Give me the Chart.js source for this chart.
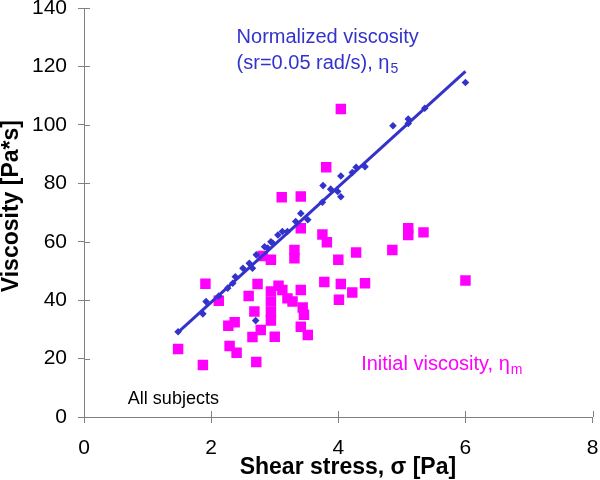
<!DOCTYPE html>
<html>
<head>
<meta charset="utf-8">
<script src="https://cdn.jsdelivr.net/npm/chart.js@4.4.0/dist/chart.umd.min.js"></script>
<style>
  html, body { margin: 0; padding: 0; background: #fff; }
</style>
</head>
<body>
<canvas id="viscChart" width="600" height="480"></canvas>
<script>
// normalized viscosity (sr=0.05 rad/s), eta5
var normX = [1.48, 1.87, 1.92, 2.12, 2.26, 2.34, 2.38, 2.50, 2.60, 2.65, 2.70, 2.71, 2.84, 2.89, 2.94, 2.97, 3.05, 3.12, 3.20, 3.33, 3.41, 3.52, 3.75, 3.76, 3.88, 3.99, 4.04, 4.04, 4.22, 4.28, 4.42, 4.86, 5.10, 5.10, 5.36, 6.00];
var normY = [29.2, 35.3, 39.5, 41.4, 44.1, 45.8, 48.0, 50.9, 52.6, 50.9, 33.0, 55.5, 58.3, 57.8, 60.0, 59.5, 62.3, 63.5, 63.5, 66.9, 69.7, 67.5, 73.5, 79.2, 78.0, 77.2, 75.4, 82.5, 83.7, 85.5, 85.7, 99.7, 102.0, 100.5, 105.7, 114.5];

// initial viscosity, eta_m
var initX = [1.48, 1.87, 1.91, 2.12, 2.27, 2.37, 2.29, 2.40, 2.59, 2.73, 2.68, 2.78, 2.65, 2.71, 2.94, 2.94, 2.94, 2.94, 3.00, 3.06, 3.12, 3.20, 3.28, 3.41, 3.44, 3.46, 3.41, 3.52, 2.81, 2.94, 3.31, 3.31, 3.11, 3.41, 3.41, 3.75, 3.82, 3.78, 3.81, 4.04, 4.00, 4.28, 4.85, 5.10, 5.10, 5.34, 6.00, 4.04, 4.22, 4.42, 4.01];
var initY = [23.3, 17.8, 45.6, 39.8, 31.2, 32.4, 24.3, 22.0, 41.4, 45.5, 36.1, 29.8, 27.4, 18.8, 43.0, 39.5, 36.0, 33.0, 27.5, 44.9, 43.5, 40.6, 39.5, 43.5, 37.5, 35.0, 30.9, 28.1, 55.1, 53.8, 57.2, 54.3, 75.2, 75.5, 64.6, 62.5, 59.8, 46.2, 85.5, 105.4, 53.8, 56.3, 57.2, 64.6, 62.3, 63.2, 46.7, 45.5, 42.6, 45.8, 40.1];

// fitted line through the normalized points
var fitX = [1.47, 6.0];
var fitY = [28.8, 118.3];

var xTicks = [0, 2, 4, 6, 8];
var yTicks = [0, 20, 40, 60, 80, 100, 120, 140];

var BLUE = "#3333cc";
var MAGENTA = "#ff00ff";
var FONT = "'Liberation Sans', Arial, sans-serif";

function toPoints(xs, ys) {
  return xs.map(function(x, i) { return { x: x, y: ys[i] }; });
}

// text with a small subscript after it
function subText(ctx, main, sub, px, py, size, color) {
  ctx.fillStyle = color;
  ctx.textAlign = "left";
  ctx.textBaseline = "alphabetic";
  ctx.font = size + "px " + FONT;
  ctx.fillText(main, px, py);
  var w = ctx.measureText(main).width;
  if (sub) {
    ctx.font = Math.round(size * 0.72) + "px " + FONT;
    ctx.fillText(sub, px + w + 1, py + size * 0.2);
  }
}

var extras = {
  id: "extras",
  afterDraw: function(chart) {
    var ctx = chart.ctx;
    var xs = chart.scales.x, ys = chart.scales.y;
    ctx.save();
    // tick marks also cross into the plot
    ctx.strokeStyle = "#808080";
    ctx.lineWidth = 1;
    ctx.beginPath();
    xs.ticks.forEach(function(t) {
      var px = Math.round(xs.getPixelForValue(t.value)) + 0.5;
      ctx.moveTo(px, xs.top);
      ctx.lineTo(px, xs.top - 6);
    });
    ys.ticks.forEach(function(t) {
      var py = Math.round(ys.getPixelForValue(t.value)) + 0.5;
      ctx.moveTo(ys.right, py);
      ctx.lineTo(ys.right + 6, py);
    });
    ctx.stroke();

    // labels
    var lx = xs.getPixelForValue(2.4);
    subText(ctx, "Normalized viscosity", "", lx, 43, 20, BLUE);
    subText(ctx, "(sr=0.05 rad/s), \u03b7", "5", lx, 69, 20, BLUE);
    subText(ctx, "Initial viscosity, \u03b7", "m", xs.getPixelForValue(4.36), 370, 20, MAGENTA);
    subText(ctx, "All subjects", "", xs.getPixelForValue(0.69), 404, 18, "#000");
    ctx.restore();
  }
};

var ctx = document.getElementById("viscChart").getContext("2d");
var chart = new Chart(ctx, {
  type: "scatter",
  data: {
    datasets: [
      {
        label: "fit",
        data: toPoints(fitX, fitY),
        showLine: true,
        borderColor: BLUE,
        borderWidth: 3,
        pointRadius: 0
      },
      {
        label: "Normalized viscosity",
        data: toPoints(normX, normY),
        pointStyle: "rectRot",
        pointRadius: 3.8,
        backgroundColor: BLUE,
        borderWidth: 0
      },
      {
        label: "Initial viscosity",
        data: toPoints(initX, initY),
        pointStyle: "rect",
        pointRadius: 7.4,
        backgroundColor: MAGENTA,
        borderWidth: 0
      }
    ]
  },
  options: {
    responsive: false,
    animation: false,
    layout: { padding: { left: 0, top: 8, right: 5, bottom: 0 } },
    plugins: { legend: { display: false }, tooltip: { enabled: false } },
    scales: {
      x: {
        type: "linear",
        min: 0,
        max: 8,
        afterBuildTicks: function(s) { s.ticks = xTicks.map(function(v) { return { value: v }; }); },
        afterFit: function(s) { s.height = 63; s.paddingLeft = 0; s.paddingRight = 0; },
        grid: { drawOnChartArea: false, tickLength: 6, color: "#808080" },
        border: { color: "#808080" },
        ticks: { color: "#000", padding: 13, font: { family: FONT, size: 21 } },
        title: {
          display: true,
          text: "   Shear stress, \u03c3 [Pa]",
          color: "#000",
          padding: { top: 0, bottom: 1 },
          font: { family: FONT, size: 23, weight: "bold", lineHeight: 1 }
        }
      },
      y: {
        type: "linear",
        min: 0,
        max: 140,
        afterBuildTicks: function(s) { s.ticks = yTicks.map(function(v) { return { value: v }; }); },
        afterFit: function(s) { s.width = 84; s.paddingTop = 0; s.paddingBottom = 0; },
        grid: { drawOnChartArea: false, tickLength: 6, color: "#808080" },
        border: { color: "#808080" },
        ticks: { color: "#000", padding: 11, font: { family: FONT, size: 21 } },
        title: {
          display: true,
          text: "  Viscosity [Pa*s]",
          color: "#000",
          padding: 0,
          font: { family: FONT, size: 23, weight: "bold", lineHeight: 1 }
        }
      }
    }
  },
  plugins: [extras]
});
</script>
</body>
</html>
